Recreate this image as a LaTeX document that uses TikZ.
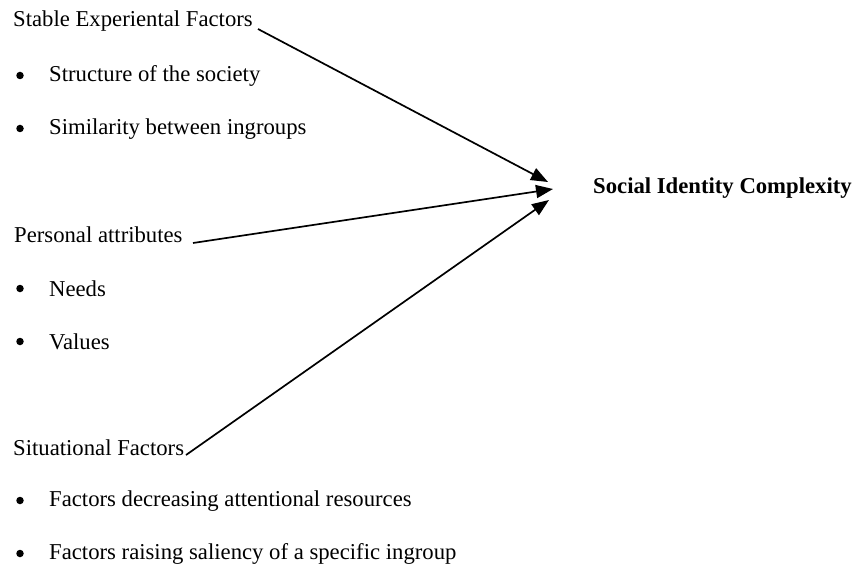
\documentclass[tikz,border=0pt]{standalone}
\usepackage{fontspec}
\setmainfont{Liberation Serif}
\usetikzlibrary{arrows.meta}
\tikzset{
  lbl/.style={anchor=west, inner sep=0pt, font=\fontsize{22.7}{27}\selectfont},
  item/.style={lbl},
  bul/.style={circle, fill=black, inner sep=0pt, minimum size=7.5pt},
  link/.style={line width=1.7pt, -{Triangle[length=17pt,width=13pt]}}
}
\begin{document}
\begin{tikzpicture}[x=1pt,y=-1pt]
\useasboundingbox (0,0) rectangle (857,567);
% headings
\node[lbl] (stable) at (13,21) {Stable Experiental Factors};
\node[lbl] (personal) at (14,235) {Personal attributes};
\node[lbl] (situ) at (13,448) {Situational Factors};
\node[lbl, font=\fontsize{22.7}{27}\selectfont\bfseries] (sic) at (593,188) {Social Identity Complexity};
% bullet items
\node[bul] (b1) at (20,75.5) {};
\node[item] (i1) at (49,76) {Structure of the society};
\node[bul] (b2) at (20,128.5) {};
\node[item] (i2) at (49,129) {Similarity between ingroups};
\node[bul] (b3) at (20,288.5) {};
\node[item] (i3) at (49,289) {Needs};
\node[bul] (b4) at (20,341.5) {};
\node[item] (i4) at (49,342) {Values};
\node[bul] (b5) at (20,500.5) {};
\node[item] (i5) at (49,501) {Factors decreasing attentional resources};
\node[bul] (b6) at (20,553.5) {};
\node[item] (i6) at (49,554) {Factors raising saliency of a specific ingroup};
% arrow end points
\coordinate (s0) at (258,29);
\coordinate (t1) at (548,182);
\coordinate (p0) at (193,243);
\coordinate (t2) at (553,189);
\coordinate (q0) at (186,455);
\coordinate (t3) at (549,200);
\draw[link] (s0) -- (t1);
\draw[link] (p0) -- (t2);
\draw[link] (q0) -- (t3);
\end{tikzpicture}
\end{document}
